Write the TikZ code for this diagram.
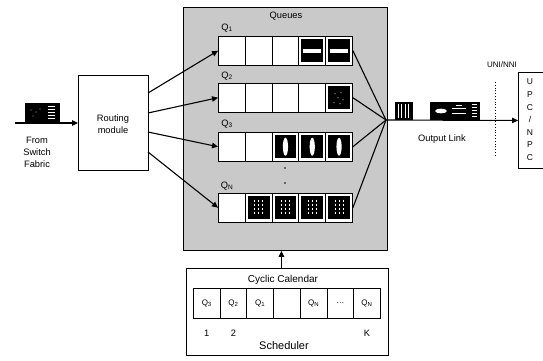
\documentclass[tikz,border=0pt]{standalone}
\usepackage{fontspec}
\setmainfont{Liberation Sans}
\usetikzlibrary{arrows.meta}

\begin{document}
\begin{tikzpicture}[x=1pt,y=-1pt,
  font=\fontsize{9.3}{12}\selectfont,
  line width=0.9pt,
  >={Triangle[length=6pt,width=5.5pt]},
  boxed/.style={draw, fill=white, inner sep=0pt, anchor=north west},
  qcell/.style={draw, fill=white, inner sep=0pt, minimum width=26.8pt, minimum height=28.5pt, anchor=north west},
  kcell/.style={draw, fill=white, inner sep=0pt, minimum width=26.7pt, minimum height=30pt, anchor=north west, font=\fontsize{8}{9}\selectfont},
  link/.style={line width=1.1pt},
  lbl/.style={inner sep=0pt}]
\useasboundingbox (0,0) rectangle (543,360);

% ---------- queue area ----------
\node[draw, fill=black!21, inner sep=0pt, minimum width=204pt, minimum height=243pt, anchor=north west] (qbox) at (183,7) {};
\node[lbl] (qtitle) at (286,16) {Queues};

% queue rows: name / top edge
\foreach \r/\top in {1/36, 2/83, 3/132, 4/193}{
  \foreach \c in {1,...,5}{
    \node[qcell] (q\r c\c) at ({218+26.8*(\c-1)},\top) {};
  }
}
\node[lbl] (ql1) at (227,28) {Q\textsubscript{1}};
\node[lbl] (ql2) at (227,76) {Q\textsubscript{2}};
\node[lbl] (ql3) at (227,124) {Q\textsubscript{3}};
\node[lbl] (ql4) at (227,186) {Q\textsubscript{N}};

% vertical dots between Q3 and QN
\fill (285,168) circle (0.8pt);
\fill (285,183) circle (0.8pt);

% stored cells: black inner block
\foreach \n in {q1c4,q1c5,q2c5,q3c3,q3c4,q3c5,q4c2,q4c3,q4c4,q4c5}{
  \fill ([shift={(3,3)}]\n.north west) rectangle ([shift={(-3,-3)}]\n.south east);
}
% Q1: horizontal light band
\foreach \n in {q1c4,q1c5}{
  \fill[white] ([shift={(5,-2)}]\n.west) rectangle ([shift={(-5,2)}]\n.east);
}
% Q2: speckle
\foreach \dx/\dy in {-4/-4,2/-5,-1/0,4/2,-5/5,1/6}{
  \fill[white!70!black] ([shift={(\dx,\dy)}]q2c5.center) circle (0.6pt);
}
% Q3: vertical light band
\foreach \n in {q3c3,q3c4,q3c5}{
  \fill[white] (\n.center) ellipse (2.6pt and 9pt);
}
% QN: thin vertical streaks
\foreach \n in {q4c2,q4c3,q4c4,q4c5}{
  \foreach \dx in {-4,0,4}{
    \draw[white, line width=0.45pt, dash pattern=on 2.5pt off 1.5pt]
      ([shift={(\dx,-8)}]\n.center) -- ([shift={(\dx,8)}]\n.center);
  }
}

% ---------- routing module ----------
\node[boxed, minimum width=70pt, minimum height=95pt] (route) at (78,75) {};
\node[lbl, align=center] (routetxt) at (113,124) {Routing\\module};

% input link with a cell on it
\coordinate (src) at (15,123);
\draw[link,->] (src) -- (route.west |- src);
\fill (25,103) rectangle (60,123);
\foreach \yy in {106,109,112,115,118}{
  \draw[white, line width=0.8pt] (48,\yy) -- (55,\yy);
}
\foreach \xx/\yy in {31/110,36/112,33/116,40/109}{
  \fill[white!60!black] (\xx,\yy) circle (0.6pt);
}
\node[lbl, align=center] (fromtxt) at (37,152) {From\\Switch\\Fabric};

% routing module to the queues
\foreach \r/\yy in {1/93, 2/113, 3/132, 4/152}{
  \coordinate (rp\r) at (148,\yy);
  \draw[link,->] (rp\r) -- (q\r c1.west);
}

% ---------- multiplexing onto the output link ----------
\coordinate (hub) at (386,120);
\foreach \r in {1,...,4}{
  \draw[link] (q\r c5.east) -- (hub);
}

% UPC/NPC box
\node[draw, inner sep=0pt, minimum width=40pt, minimum height=96pt, anchor=north west] (upc) at (518,72) {};
\foreach \t [count=\i] in {U,P,C,/,N,P,C}{
  \node[lbl, font=\fontsize{8.5}{10}\selectfont] (upcl\i) at (530,{82+12.6*(\i-1)}) {\t};
}
\node[lbl, font=\fontsize{8}{9}\selectfont] (uni) at (502,65) {UNI/NNI};
\draw[dotted, line width=0.8pt] (495,82) -- (495,157);

\draw[link,->] (hub) -- (upc.west);
\node[lbl] (outtxt) at (442,139) {Output Link};

% cells on the output link
\fill (395,102) rectangle (413,120);
\foreach \xx in {398,401.5,405,408.5}{
  \draw[white, line width=0.7pt] (\xx,104) -- (\xx,118);
}
\fill (430,102) rectangle (480,120);
\fill[white] (441,111) ellipse (6pt and 2.3pt);
\draw[white, line width=0.4pt] (452,108) -- (466,108);
\draw[white, line width=0.4pt] (452,113) -- (466,113);
\draw[white, line width=0.4pt] (456,105) -- (462,105);
\foreach \yy in {104,107,110,113,116}{
  \draw[white, line width=0.8pt] (472,\yy) -- (477,\yy);
}

% ---------- scheduler ----------
\node[boxed, minimum width=202pt, minimum height=87pt] (sched) at (186,268) {};
\draw[link,->] ([xshift=-4pt]qbox.south |- sched.north) -- ([xshift=-4pt]qbox.south);
\node[lbl, font=\fontsize{10}{12}\selectfont] (caltitle) at (283,280) {Cyclic Calendar};
\foreach \t [count=\i] in {Q\textsubscript{3},Q\textsubscript{2},Q\textsubscript{1},{},Q\textsubscript{N},\dots,Q\textsubscript{N}}{
  \node[kcell] (k\i) at ({193+26.7*(\i-1)},288) {\t};
}
\node[lbl] (idx1) at (k1 |- 0,333) {1};
\node[lbl] (idx2) at (k2 |- 0,333) {2};
\node[lbl] (idxk) at (k7 |- 0,333) {K};
\node[lbl, font=\fontsize{11}{13}\selectfont] (schedtxt) at (284,346) {Scheduler};
\end{tikzpicture}
\end{document}
